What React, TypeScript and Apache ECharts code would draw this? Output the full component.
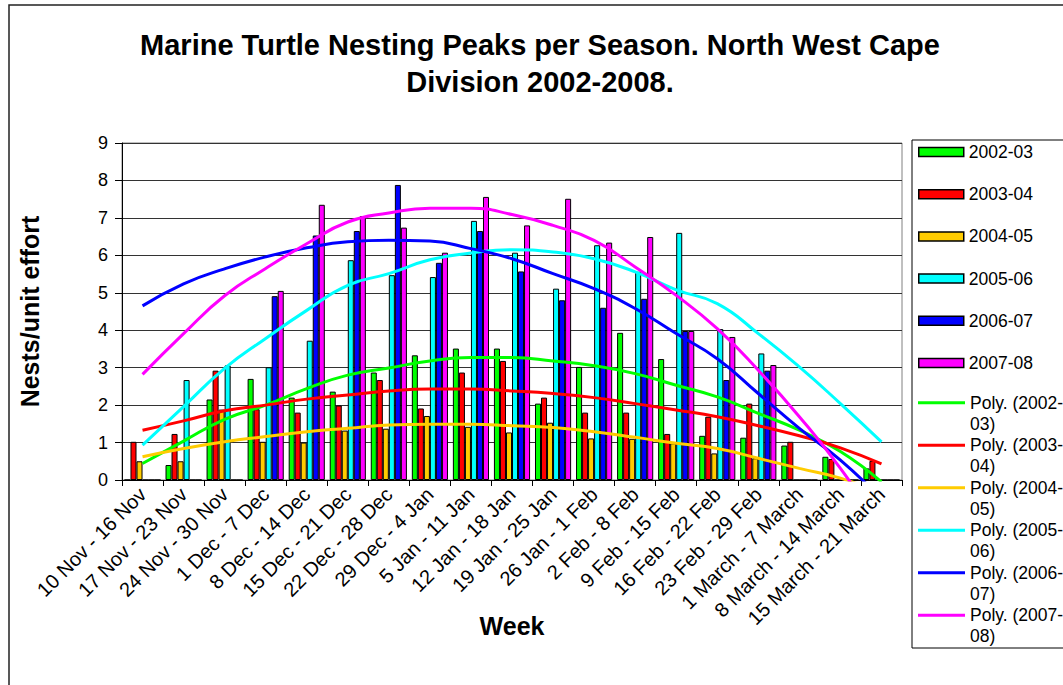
import React, { useEffect, useRef } from "react";
import * as echarts from "echarts";

const categories = [
  "10 Nov - 16 Nov", "17 Nov - 23 Nov", "24 Nov - 30 Nov", "1 Dec - 7 Dec", "8 Dec - 14 Dec",
  "15 Dec - 21 Dec", "22 Dec - 28 Dec", "29 Dec - 4 Jan", "5 Jan - 11 Jan", "12 Jan - 18 Jan",
  "19 Jan - 25 Jan", "26 Jan - 1 Feb", "2 Feb - 8 Feb", "9 Feb - 15 Feb", "16 Feb - 22 Feb",
  "23 Feb - 29 Feb", "1 March - 7 March", "8 March - 14 March", "15 March - 21 March",
];

const seasons = ["2002-03", "2003-04", "2004-05", "2005-06", "2006-07", "2007-08"];
const colors = ["#00FF00", "#FF0000", "#FFCC00", "#00FFFF", "#0000FF", "#FF00FF"];

const s0203 = [0, 0.4, 2.15, 2.7, 2.2, 2.36, 2.87, 3.33, 3.51, 3.51, 2.04, 3.02, 3.93, 3.23, 1.18, 1.13, 0.92, 0.62, 0.31];
const s0304 = [1.02, 1.23, 2.92, 1.89, 1.8, 1.99, 2.67, 1.91, 2.87, 3.18, 2.2, 1.8, 1.8, 1.23, 1.69, 2.04, 1.02, 0.56, 0.51];
const s0405 = [0.5, 0.5, 1.88, 1.02, 1.0, 1.32, 1.37, 1.71, 1.42, 1.27, 1.53, 1.11, 1.1, 0.98, 0.71, 0.58, 0, 0, 0];
const s0506 = [0, 2.67, 3.06, 3.01, 3.72, 5.87, 5.47, 5.42, 6.92, 6.07, 5.11, 6.27, 5.56, 6.6, 4.03, 3.38, 0, 0, 0];
const s0607 = [0, 0, 0, 4.91, 6.53, 6.65, 7.88, 5.8, 6.65, 5.57, 4.8, 4.6, 4.84, 3.98, 2.67, 2.92, 0, 0, 0];
const s0708 = [0, 0, 0, 5.05, 7.35, 7.05, 6.74, 6.07, 7.56, 6.8, 7.51, 6.34, 6.49, 3.98, 3.82, 3.07, 0, 0, 0];

// Polynomial trendlines, read at each category centre
const p0203 = [0.44, 1.04, 1.62, 2.0, 2.44, 2.8, 2.99, 3.18, 3.27, 3.27, 3.18, 3.05, 2.84, 2.53, 2.22, 1.78, 1.33, 0.76, -0.05];
const p0304 = [1.33, 1.58, 1.85, 2.0, 2.16, 2.27, 2.38, 2.43, 2.43, 2.38, 2.31, 2.2, 2.04, 1.87, 1.69, 1.45, 1.18, 0.86, 0.43];
const p0405 = [0.62, 0.84, 1.02, 1.16, 1.29, 1.38, 1.47, 1.49, 1.49, 1.45, 1.4, 1.29, 1.14, 0.98, 0.84, 0.58, 0.31, 0.05, -0.35];
const p0506 = [0.93, 1.96, 2.98, 3.78, 4.53, 5.2, 5.51, 5.88, 6.06, 6.15, 6.09, 5.91, 5.56, 5.08, 4.71, 3.91, 3.02, 2.04, 1.02];
const p0607 = [4.65, 5.24, 5.64, 5.96, 6.2, 6.36, 6.4, 6.38, 6.18, 5.91, 5.51, 5.11, 4.58, 3.91, 3.24, 2.31, 1.38, 0.53, -0.5];
const p0708 = [2.82, 3.91, 4.92, 5.65, 6.31, 6.89, 7.13, 7.26, 7.26, 7.09, 6.8, 6.4, 5.69, 4.93, 4.04, 2.93, 1.69, 0.31, -1.3];

const barData = [s0203, s0304, s0405, s0506, s0607, s0708];
const polyData = [p0203, p0304, p0405, p0506, p0607, p0708];

const FONT = "Arial, 'Liberation Sans', sans-serif";

export default function App() {
  const ref = useRef<HTMLDivElement>(null);
  useEffect(() => {
    if (!ref.current) return;
    const chart = echarts.init(ref.current, undefined, { renderer: "svg" });
    const barSeries = seasons.map((name, i) => ({
      name,
      type: "bar",
      data: barData[i],
      barGap: "0%",
      barCategoryGap: "12%",
      itemStyle: { color: colors[i], borderColor: "#000", borderWidth: 1 },
    }));
    const polyNames = seasons.map((s) => "Poly. (" + s + ")");
    const lineSeries = seasons.map((s, i) => ({
      name: polyNames[i],
      type: "line",
      data: polyData[i],
      smooth: true,
      symbol: "none",
      clip: true,
      lineStyle: { color: colors[i], width: 3 },
      itemStyle: { color: colors[i] },
    }));
    chart.setOption({
      animation: false,
      backgroundColor: "#fff",
      textStyle: { fontFamily: FONT },
      title: {
        text: "Marine Turtle Nesting Peaks per Season. North West Cape\nDivision 2002-2008.",
        left: 540,
        top: 26,
        padding: 0,
        textAlign: "center",
        textStyle: { fontSize: 29, fontWeight: "bold", color: "#000", lineHeight: 37, fontFamily: FONT },
      },
      graphic: [
        { type: "rect", shape: { x: 9, y: 5, width: 1100, height: 700 }, style: { fill: "none", stroke: "#222", lineWidth: 1.5 }, z: -1 },
        { type: "rect", shape: { x: 912, y: 140, width: 200, height: 508 }, style: { fill: "#fff", stroke: "#000", lineWidth: 1 }, z: 0 },
      ],
      legend: [
        {
          data: seasons,
          orient: "vertical",
          left: 918,
          top: 142,
          padding: 0,
          itemWidth: 45,
          itemHeight: 9,
          itemGap: 22.2,
          icon: "rect",
          itemStyle: { borderColor: "#000", borderWidth: 1.5 },
          textStyle: { fontSize: 17.5, color: "#000", lineHeight: 20, fontFamily: FONT },
          selectedMode: false,
        },
        {
          data: polyNames,
          orient: "vertical",
          left: 918,
          top: 392,
          padding: 0,
          itemWidth: 47,
          itemHeight: 24,
          itemGap: 0.5,
          icon: "path://M0,0L48,0L48,3L0,3Z M0,24L0.01,24L0,24Z",
          itemStyle: { borderWidth: 0 },
          formatter: (n: string) => n.replace("-", "-\n"),
          textStyle: { fontSize: 17.5, color: "#000", lineHeight: 21, fontFamily: FONT },
          selectedMode: false,
        },
      ],
      grid: { left: 122, right: 161, top: 143, bottom: 205, show: true, borderColor: "#808080", borderWidth: 1 },
      xAxis: {
        type: "category",
        data: categories,
        boundaryGap: true,
        axisLine: { lineStyle: { color: "#000", width: 1 } },
        axisTick: { show: true, length: 6, lineStyle: { color: "#000" } },
        axisLabel: { rotate: 45, interval: 0, fontSize: 20, color: "#000", margin: 11, fontFamily: FONT },
        name: "Week",
        nameLocation: "middle",
        nameGap: 133,
        nameMoveOverlap: false,
        nameTextStyle: { fontSize: 25, fontWeight: "bold", color: "#000", fontFamily: FONT },
      },
      yAxis: {
        type: "value",
        min: 0,
        max: 9,
        interval: 1,
        axisLine: { show: true, lineStyle: { color: "#000", width: 1 } },
        axisTick: { show: true, length: 7, lineStyle: { color: "#000" } },
        axisLabel: { fontSize: 18, color: "#000", margin: 14, fontFamily: FONT },
        splitLine: { lineStyle: { color: "#333", width: 1 } },
        name: "Nests/unit effort",
        nameLocation: "middle",
        nameRotate: 90,
        nameGap: 80,
        nameMoveOverlap: false,
        nameTextStyle: { fontSize: 25, fontWeight: "bold", color: "#000", fontFamily: FONT },
      },
      series: [...barSeries, ...lineSeries],
    });
    return () => chart.dispose();
  }, []);
  return <div ref={ref} style={{ position: "absolute", left: 0, top: 0, width: 1063, height: 685 }} />;
}
